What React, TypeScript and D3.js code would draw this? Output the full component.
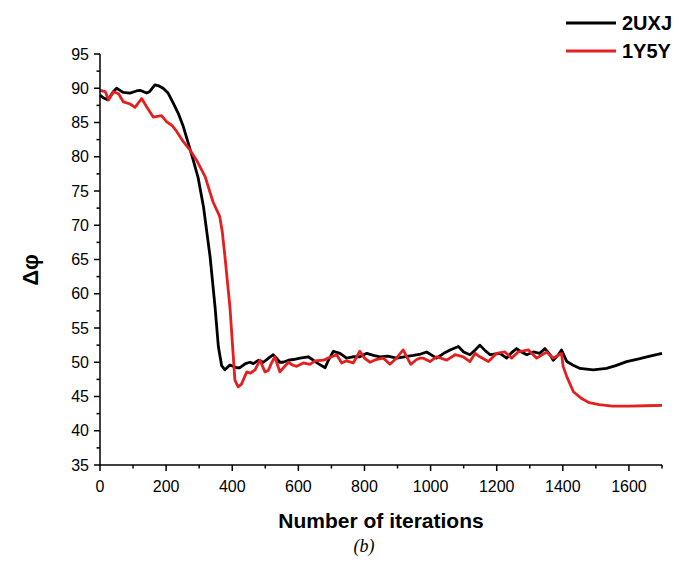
import React from "react";
import * as d3 from "d3";

const seriesNames = ["2UXJ", "1Y5Y"];
const seriesColors = ["#000000", "#e3201f"];

const blackX = [0,10,24,40,50,70,91,110,121,141,150,166,180,191,206,222,237,252,267,282,297,313,333,348,358,368,378,393,413,423,440,454,464,480,494,510,524,534,544,554,570,585,605,630,645,660,681,690,706,726,746,765,786,807,827,847,870,898,920,948,970,988,1018,1040,1059,1084,1100,1119,1135,1149,1165,1180,1210,1230,1245,1260,1275,1291,1311,1330,1346,1360,1371,1385,1396,1412,1430,1452,1492,1532,1560,1593,1630,1654,1700];
const blackY = [89.0,88.6,88.3,89.5,90.0,89.4,89.3,89.6,89.7,89.3,89.5,90.5,90.3,90.0,89.3,87.8,86.3,84.4,82.0,79.5,76.9,72.7,65.4,58.1,52.3,49.5,48.9,49.6,49.2,49.2,49.8,50.0,49.8,50.3,50.0,50.6,51.1,50.6,50.0,50.0,50.3,50.4,50.6,50.8,50.3,49.8,49.2,50.2,51.6,51.3,50.6,50.8,50.8,51.3,51.0,50.8,50.9,50.6,50.8,51.0,51.2,51.5,50.6,51.3,51.8,52.3,51.5,51.1,51.8,52.5,51.7,51.1,51.3,50.6,51.4,52.0,51.5,51.1,51.5,51.3,52.0,51.2,50.3,51.0,51.8,50.1,49.6,49.1,48.9,49.1,49.5,50.1,50.5,50.8,51.3];

const redX = [0,16,26,41,56,71,91,106,126,141,161,186,202,217,232,252,272,292,318,342,362,370,378,393,403,408,418,428,444,455,469,484,499,509,519,529,544,557,570,582,595,615,635,650,676,690,716,731,745,766,786,800,817,835,857,877,895,917,930,940,958,968,978,998,1018,1049,1074,1099,1119,1135,1149,1175,1200,1225,1245,1265,1296,1321,1351,1371,1396,1401,1412,1432,1457,1480,1510,1550,1600,1650,1700];
const redY = [89.7,89.5,88.3,89.5,89.2,88.0,87.7,87.2,88.5,87.3,85.8,86.0,85.1,84.6,83.7,82.2,81.0,79.5,77.1,73.4,71.3,69.0,65.4,58.1,51.0,47.4,46.4,46.8,48.6,48.4,48.9,50.3,48.6,48.8,49.9,50.8,48.6,49.3,50.0,49.6,49.4,49.9,49.7,50.2,50.3,50.6,51.1,49.9,50.2,49.9,51.6,50.6,50.0,50.4,50.6,49.7,50.5,51.8,50.6,49.7,50.4,50.6,50.6,50.1,50.8,50.3,51.1,50.8,50.1,51.3,50.8,50.1,51.3,51.5,50.6,51.5,51.8,50.6,51.5,50.6,51.3,49.4,47.9,45.7,44.7,44.1,43.8,43.6,43.6,43.65,43.7];

const xMajorTicks = [0,200,400,600,800,1000,1200,1400,1600];
const xMinorTicks = [100,300,500,700,900,1100,1300,1500,1700];
const yMajorTicks = [35,40,45,50,55,60,65,70,75,80,85,90,95];

const xLabel = "Number of iterations";
const yLabel = "Δφ";
const caption = "(b)";

export default function App() {
  const x = d3.scaleLinear().domain([0, 1700]).range([100, 662]);
  const y = d3.scaleLinear().domain([35, 95]).range([465, 54]);
  const yMinor = d3.range(37.5, 95, 5);
  const line = d3.line<[number, number]>().x(d => x(d[0])).y(d => y(d[1]));
  const blackData = blackX.map((v, i) => [v, blackY[i]] as [number, number]);
  const redData = redX.map((v, i) => [v, redY[i]] as [number, number]);
  const font = "'Liberation Sans', Arial, sans-serif";
  return (
    <svg width={680} height={566} style={{ position: "absolute", left: 0, top: 0, background: "#fff" }} fontFamily={font}>
      <rect x={0} y={0} width={680} height={566} fill="#fff" />
      <path d={line(blackData) || ""} fill="none" stroke={seriesColors[0]} strokeWidth={2.8} strokeLinejoin="round" />
      <path d={line(redData) || ""} fill="none" stroke={seriesColors[1]} strokeWidth={2.8} strokeLinejoin="round" />
      <line x1={100} x2={100} y1={y(95)} y2={y(35) + 0.75} stroke="#000" strokeWidth={1.5} />
      <line x1={100 - 0.75} x2={x(1700)} y1={465} y2={465} stroke="#000" strokeWidth={1.5} />
      {yMajorTicks.map(t => (
        <g key={"ym" + t}>
          <line x1={94} x2={100} y1={y(t)} y2={y(t)} stroke="#000" strokeWidth={1.5} />
          <text x={89} y={y(t)} dy="0.35em" textAnchor="end" fontSize={16}>{t}</text>
        </g>
      ))}
      {yMinor.map(t => (
        <line key={"yn" + t} x1={96.5} x2={100} y1={y(t)} y2={y(t)} stroke="#000" strokeWidth={1.5} />
      ))}
      {xMajorTicks.map(t => (
        <g key={"xm" + t}>
          <line x1={x(t)} x2={x(t)} y1={465} y2={471} stroke="#000" strokeWidth={1.5} />
          <text x={x(t)} y={492} textAnchor="middle" fontSize={16}>{t}</text>
        </g>
      ))}
      {xMinorTicks.map(t => (
        <line key={"xn" + t} x1={x(t)} x2={x(t)} y1={465} y2={468.5} stroke="#000" strokeWidth={1.5} />
      ))}
      <text x={381} y={528} textAnchor="middle" fontSize={21} fontWeight="bold">{xLabel}</text>
      <text transform="translate(38,270) rotate(-90)" textAnchor="middle" fontSize={22} fontWeight="bold">{yLabel}</text>
      <text x={364} y={552} textAnchor="middle" fontSize={18} fontStyle="italic" fontFamily="'Liberation Serif', 'Times New Roman', serif">{caption}</text>
      {seriesNames.map((n, i) => (
        <g key={n}>
          <line x1={566} x2={616} y1={23 + i * 28} y2={23 + i * 28} stroke={seriesColors[i]} strokeWidth={3} />
          <text x={622} y={23 + i * 28} dy="0.36em" fontSize={20} fontWeight="bold">{n}</text>
        </g>
      ))}
    </svg>
  );
}
